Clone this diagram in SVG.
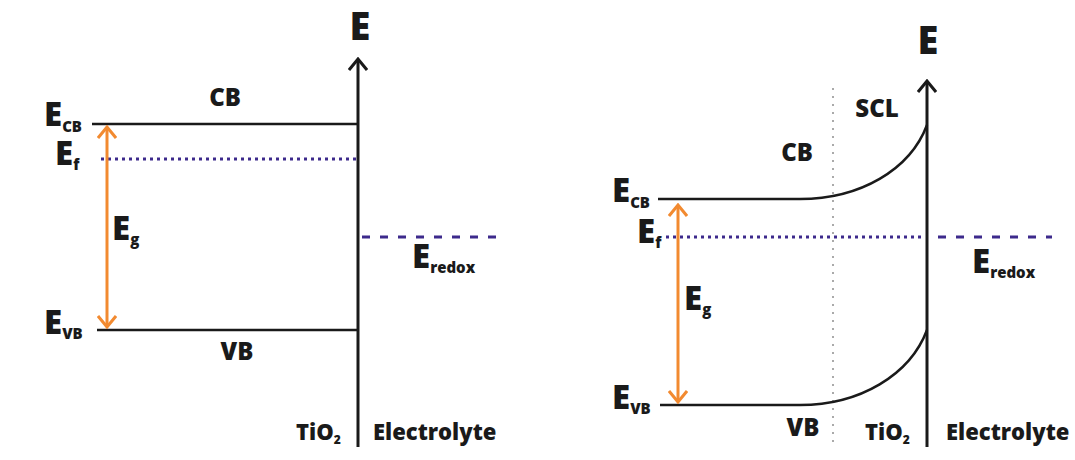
<svg xmlns="http://www.w3.org/2000/svg" width="1075" height="460" viewBox="0 0 1075 460">
<defs>
<style>
text{font-family:"Open Sans","Liberation Sans",sans-serif;font-weight:800;fill:#1a1a1a}
.big{font-size:33px}
.sub{font-size:15px}
.lbl{font-size:24px}
.bot{font-size:22px}
.band{stroke:#1a1a1a;stroke-width:2.5;fill:none}
.ax{stroke:#1a1a1a;stroke-width:3;fill:none}
.ef{stroke:#3d2a8c;stroke-width:3;stroke-dasharray:3 4;fill:none}
.redox{stroke:#3d2a8c;stroke-width:3;stroke-dasharray:8 10;fill:none}
.eg{stroke:#f28a30;stroke-width:3;fill:none}
.scl{stroke:#aaaaaa;stroke-width:2;stroke-dasharray:2 6;fill:none}
</style>
<marker id="axh" viewBox="0 0 20 20" refX="18" refY="10" markerWidth="20" markerHeight="20" markerUnits="userSpaceOnUse" orient="auto-start-reverse">
<path d="M7,1 L18,10 L7,19" fill="none" stroke="#1a1a1a" stroke-width="3"/>
</marker>
<marker id="egh" viewBox="0 0 20 20" refX="18" refY="10" markerWidth="20" markerHeight="20" markerUnits="userSpaceOnUse" orient="auto-start-reverse">
<path d="M7,1 L18,10 L7,19" fill="none" stroke="#f28a30" stroke-width="3"/>
</marker>
</defs>
<rect width="1075" height="460" fill="#ffffff"/>
<g id="connectors">
<line class="ax" x1="358" y1="447" x2="358" y2="59" marker-end="url(#axh)"/>
<line class="ax" x1="927" y1="447" x2="927" y2="81" marker-end="url(#axh)"/>
<line class="band" x1="92" y1="124" x2="358" y2="124"/>
<line class="band" x1="97" y1="330" x2="358" y2="330"/>
<line class="ef" x1="101" y1="159" x2="356" y2="159"/>
<line class="redox" x1="362" y1="237" x2="496" y2="237"/>
<line class="eg" x1="107" y1="127" x2="107" y2="327" marker-start="url(#egh)" marker-end="url(#egh)"/>
<line class="scl" x1="833" y1="88" x2="833" y2="447"/>
<path class="band" d="M658,199 L800,199 C860,199 910,170 927,125"/>
<path class="band" d="M660,405 L800,405 C860,405 910,375 927,330"/>
<line class="ef" x1="666" y1="237" x2="922" y2="237"/>
<line class="redox" x1="938" y1="237" x2="1052" y2="237"/>
<line class="eg" x1="678" y1="205" x2="678" y2="402" marker-start="url(#egh)" marker-end="url(#egh)"/>
</g>
<g id="left-labels">
<text x="360" y="40" text-anchor="middle" font-size="38">E</text>
<text x="225" y="106" class="lbl" text-anchor="middle">CB</text>
<text x="237" y="360" class="lbl" text-anchor="middle">VB</text>
<text x="44" y="126" class="big">E<tspan class="sub" dy="6">CB</tspan></text>
<text x="55" y="165" class="big">E<tspan class="sub" dy="5">f</tspan></text>
<text x="112" y="240" class="big">E<tspan class="sub" dy="5">g</tspan></text>
<text x="44" y="334" class="big">E<tspan class="sub" dy="5">VB</tspan></text>
<text x="412" y="268" class="big">E<tspan class="sub" dy="5">redox</tspan></text>
<text x="296" y="440" class="bot">TiO<tspan font-size="12" dy="4">2</tspan></text>
<text x="373" y="440" class="bot">Electrolyte</text>
</g>
<g id="right-labels">
<text x="928" y="54" text-anchor="middle" font-size="38">E</text>
<text x="877" y="117" class="lbl" text-anchor="middle">SCL</text>
<text x="797" y="161" class="lbl" text-anchor="middle">CB</text>
<text x="803" y="436" class="lbl" text-anchor="middle">VB</text>
<text x="612" y="202" class="big">E<tspan class="sub" dy="6">CB</tspan></text>
<text x="637" y="243" class="big">E<tspan class="sub" dy="5">f</tspan></text>
<text x="684" y="310" class="big">E<tspan class="sub" dy="5">g</tspan></text>
<text x="612" y="409" class="big">E<tspan class="sub" dy="5">VB</tspan></text>
<text x="972" y="273" class="big">E<tspan class="sub" dy="5">redox</tspan></text>
<text x="865" y="440" class="bot">TiO<tspan font-size="12" dy="4">2</tspan></text>
<text x="946" y="440" class="bot">Electrolyte</text>
</g>
</svg>
